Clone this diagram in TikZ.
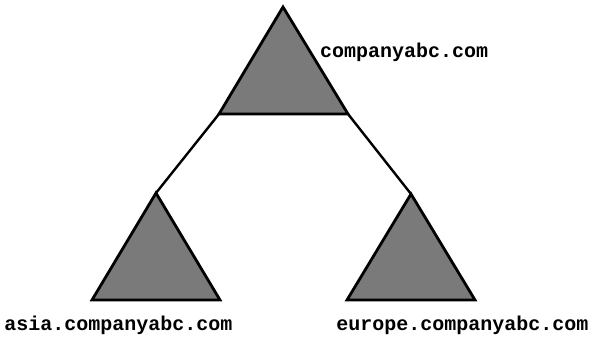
\documentclass[tikz,border=0pt]{standalone}
\usepackage{fontspec}
\newfontfamily\labelfont{Liberation Mono}
\begin{document}
\begin{tikzpicture}[x=1pt,y=-1pt,
  dombox/.style={draw=black,line width=2.8pt,fill=black!52,line join=miter},
  linkline/.style={draw=black,line width=2.4pt},
  dlabel/.style={font=\labelfont\bfseries\fontsize{20}{20}\selectfont,inner sep=0pt}]
\useasboundingbox[fill=white] (0,0) rectangle (591,337);
% top domain
\coordinate (topA) at (283,7);
\coordinate (topL) at (219,114);
\coordinate (topR) at (348,114);
% asia domain
\coordinate (asiaA) at (156,193);
\coordinate (asiaL) at (92,300);
\coordinate (asiaR) at (220,300);
% europe domain
\coordinate (euA) at (411,194);
\coordinate (euL) at (347,300);
\coordinate (euR) at (475,300);
\filldraw[dombox] (topA) -- (topR) -- (topL) -- cycle;
\filldraw[dombox] (asiaA) -- (asiaR) -- (asiaL) -- cycle;
\filldraw[dombox] (euA) -- (euR) -- (euL) -- cycle;
\draw[linkline] (topL) -- (asiaA);
\draw[linkline] (topR) -- (euA);
\node[dlabel,anchor=base west] (toplabel) at (320,57) {companyabc.com};
\node[dlabel,anchor=base] (asialabel) at (118.5,330) {asia.companyabc.com};
\node[dlabel,anchor=base] (eulabel) at (462.5,330) {europe.companyabc.com};
\end{tikzpicture}
\end{document}
